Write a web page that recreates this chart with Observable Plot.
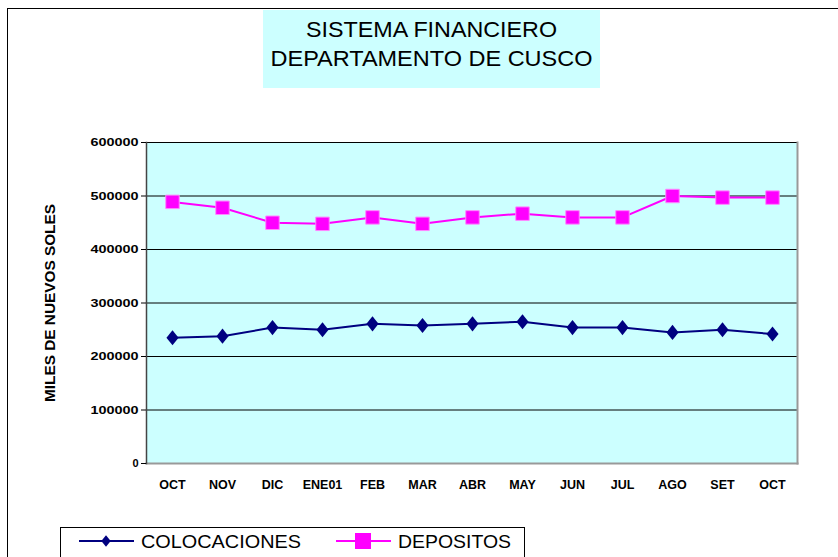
<!DOCTYPE html>
<html><head><meta charset="utf-8">
<script src="https://cdn.jsdelivr.net/npm/d3@7"></script>
<script src="https://cdn.jsdelivr.net/npm/@observablehq/plot@0.6"></script>
<style>
html,body{margin:0;padding:0;background:#fff;overflow:hidden;}
#wrap{position:relative;width:838px;height:557px;font-family:"Liberation Sans",Arial,sans-serif;}
#border{position:absolute;left:7px;top:8px;width:900px;height:600px;border-left:1px solid #000;border-top:1px solid #000;box-sizing:border-box;}
#title{position:absolute;left:263px;top:10px;width:337px;height:78px;background:#ccffff;}
#legend{position:absolute;left:60px;top:527px;width:465px;height:40px;border:1px solid #000;background:#fff;box-sizing:border-box;}
#chart{position:absolute;left:0;top:0;}
</style></head>
<body><div id="wrap"><div id="border"></div><div id="chart"></div>
<div id="title"><svg id="titlesvg" width="337" height="78"></svg></div>
<div id="legend"><svg id="legsvg" width="465" height="40"></svg></div>
</div>
<script>
const titleLines = ["SISTEMA FINANCIERO","DEPARTAMENTO DE CUSCO"];
const months = ["OCT","NOV","DIC","ENE01","FEB","MAR","ABR","MAY","JUN","JUL","AGO","SET","OCT"];
const colocaciones = [235000,238000,254000,250000,261000,258000,261000,265000,254000,254000,245000,250000,242000];
const depositos = [489000,478000,450000,448000,460000,448000,460000,467000,460000,460000,500000,497000,497000];
const yTicks = [0,100000,200000,300000,400000,500000,600000];
const yTitle = "MILES DE NUEVOS SOLES";
const seriesNames = ["COLOCACIONES","DEPOSITOS"];
const seriesColors = ["#000080","#ff00ff"];

const FONT = "'Liberation Sans', Arial, sans-serif";
const idx = months.map((_, i) => i);
const colRows = idx.map(i => ({i, v: colocaciones[i], s: seriesNames[0]}));
const depRows = idx.map(i => ({i, v: depositos[i], s: seriesNames[1]}));

// wide diamond symbol (width : height = 0.8)
const wideDiamond = {
  draw(ctx, size) {
    const h = Math.sqrt(size / 1.6), w = 0.8 * h;
    ctx.moveTo(0, -h); ctx.lineTo(w, 0); ctx.lineTo(0, h); ctx.lineTo(-w, 0); ctx.closePath();
  }
};

const plot = Plot.plot({
  width: 838, height: 557,
  marginLeft: 146, marginRight: 41, marginTop: 142, marginBottom: 94,
  style: {fontFamily: FONT, background: "transparent"},
  x: {type: "band", domain: idx, padding: 0},
  y: {domain: [0, 600000]},
  marks: [
    Plot.frame({fill: "#ccffff", stroke: null}),
    Plot.ruleY(yTicks.slice(1), {stroke: "#000", strokeWidth: 1}),
    Plot.frame({anchor: "right", stroke: "#999", strokeWidth: 2}),
    Plot.frame({anchor: "bottom", stroke: "#999", strokeWidth: 2}),
    Plot.frame({anchor: "left", stroke: "#444", strokeWidth: 1.5}),
    Plot.axisY({ticks: yTicks, tickSize: 5, tickPadding: 3, tickFormat: d => String(d), fontSize: 11, fontWeight: "bold", label: null}),
    Plot.axisX({tickSize: 0, tickPadding: 17, tickFormat: i => months[i], fontSize: 12.5, fontWeight: "bold", label: null, style: {letterSpacing: "-1.1px"}}),
    Plot.text([yTitle], {frameAnchor: "left", dx: -96, rotate: -90, textAnchor: "middle", fontSize: 14, fontWeight: "bold", fill: "#000"}),
    Plot.line(colRows, {x: "i", y: "v", stroke: seriesColors[0], strokeWidth: 2}),
    Plot.line(depRows, {x: "i", y: "v", stroke: seriesColors[1], strokeWidth: 2}),
    Plot.dot(colRows, {x: "i", y: "v", symbol: wideDiamond, r: 5.4, fill: seriesColors[0], stroke: null}),
    Plot.dot(depRows, {x: "i", y: "v", symbol: "square", r: 7.6, fill: seriesColors[1], stroke: "#ff88ff", strokeWidth: 1})
  ]
});
document.getElementById("chart").appendChild(plot);

// stretch y tick labels to match the wide look of the original
d3.select(plot).selectAll('g[aria-label="y-axis tick label"] text').each(function() {
  const t = this.textContent;
  if (t.length > 1) d3.select(this).attr("textLength", 8 * t.length).attr("lengthAdjust", "spacingAndGlyphs");
});
d3.select(plot).selectAll("text").filter(function() { return this.textContent === yTitle; })
  .attr("textLength", 198).attr("lengthAdjust", "spacingAndGlyphs");

// title
const ts = d3.select("#titlesvg");
const tl = [{y: 27, len: 251}, {y: 56, len: 322}];
titleLines.forEach((s, k) => {
  ts.append("text").attr("x", 337 / 2).attr("y", tl[k].y).attr("text-anchor", "middle")
    .attr("font-size", 22.5).attr("font-family", FONT)
    .attr("textLength", tl[k].len).attr("lengthAdjust", "spacingAndGlyphs").text(s);
});

// legend
const leg = d3.select("#legsvg");
const items = [
  {name: seriesNames[0], color: seriesColors[0], sym: wideDiamond, size: 55, x0: 18, len: 160},
  {name: seriesNames[1], color: seriesColors[1], sym: d3.symbolSquare, size: 256, x0: 275, len: 113}
];
items.forEach(it => {
  const g = leg.append("g").attr("transform", `translate(${it.x0},13)`);
  g.append("line").attr("x1", 0).attr("x2", 55).attr("y1", 0).attr("y2", 0).attr("stroke", it.color).attr("stroke-width", 2);
  g.append("path").attr("d", d3.symbol(it.sym, it.size)()).attr("transform", "translate(27,0)").attr("fill", it.color);
  g.append("text").attr("x", 62).attr("y", 0).attr("dy", "0.35em").attr("font-size", 19)
    .attr("textLength", it.len).attr("lengthAdjust", "spacingAndGlyphs")
    .attr("font-family", FONT).text(it.name);
});
</script></body></html>
